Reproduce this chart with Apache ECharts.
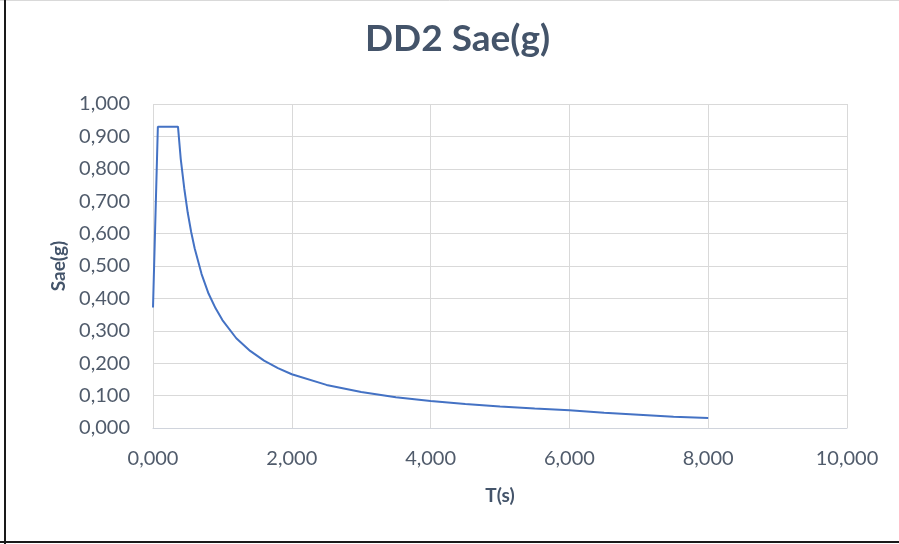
<!DOCTYPE html>
<html><head><meta charset="utf-8">
<script src="https://cdn.jsdelivr.net/npm/echarts@6/dist/echarts.min.js"></script>
<style>html,body{margin:0;padding:0;background:#fff}#c{width:899px;height:544px}</style>
</head><body><div id="c"></div>
<script>
var periods = [0, 0.07, 0.36, 0.40, 0.45, 0.50, 0.55, 0.60, 0.70, 0.80, 0.90, 1.00, 1.20, 1.40, 1.60, 1.80, 2.00, 2.50, 3.00, 3.50, 4.00, 4.50, 5.00, 5.50, 6.00, 6.50, 7.00, 7.50, 8.00];
var sae = [0.372, 0.930, 0.930, 0.830, 0.740, 0.665, 0.605, 0.555, 0.475, 0.415, 0.370, 0.333, 0.277, 0.238, 0.208, 0.185, 0.166, 0.133, 0.111, 0.095, 0.083, 0.074, 0.066, 0.060, 0.055, 0.047, 0.041, 0.035, 0.031];
var titleText = 'DD2 Sae(g)';
var xName = 'T(s)';
var yName = 'Sae(g)';

function fmt(v){ return v.toFixed(3).replace('.', ','); }
var chart = echarts.init(document.getElementById('c'), null, {renderer:'canvas'});
var FONT = 'Lato';
var LBL = '#505b6b';
chart.setOption({
  backgroundColor:'#fff',
  animation:false,
  grid:{left:153, right:52, top:104, bottom:116},
  xAxis:{type:'value', min:0, max:10, interval:2, name:xName, nameLocation:'middle', nameGap:58,
    nameTextStyle:{fontFamily:FONT, fontSize:19, fontWeight:'bold', color:'#44546a'},
    axisLine:{show:true, lineStyle:{color:'#d0d4dc', width:1}}, axisTick:{show:false},
    axisLabel:{formatter:fmt, fontFamily:FONT, fontSize:20, color:LBL, margin:21},
    splitLine:{show:true, lineStyle:{color:'#d9d9d9', width:1}}},
  yAxis:{type:'value', min:0, max:1, interval:0.1, name:yName, nameLocation:'middle', nameGap:84, nameRotate:90,
    nameTextStyle:{fontFamily:FONT, fontSize:19, fontWeight:'bold', color:'#44546a'},
    axisLine:{show:false}, axisTick:{show:false},
    axisLabel:{formatter:fmt, fontFamily:FONT, fontSize:20, color:LBL, margin:23},
    splitLine:{show:true, lineStyle:{color:'#d9d9d9', width:1}}},
  series:[{type:'line', data:periods.map(function(t,i){return [t, sae[i]];}), showSymbol:false, smooth:false,
    lineStyle:{color:'#4472c4', width:2}, itemStyle:{color:'#4472c4'}}],
  graphic:[
    {type:'text', x:457.5, y:58, style:{text:titleText, fontFamily:FONT, fontSize:37, fontWeight:'bold', fill:'#44546a', textAlign:'center', textVerticalAlign:'bottom'}},
    {type:'line', shape:{x1:0, y1:0.5, x2:899, y2:0.5}, style:{stroke:'#d9d9d9', lineWidth:1}},
    {type:'line', shape:{x1:5, y1:0, x2:5, y2:544}, style:{stroke:'#1a1a1a', lineWidth:2}},
    {type:'line', shape:{x1:0, y1:542, x2:899, y2:542}, style:{stroke:'#1a1a1a', lineWidth:2}}
  ]
});
</script></body></html>
